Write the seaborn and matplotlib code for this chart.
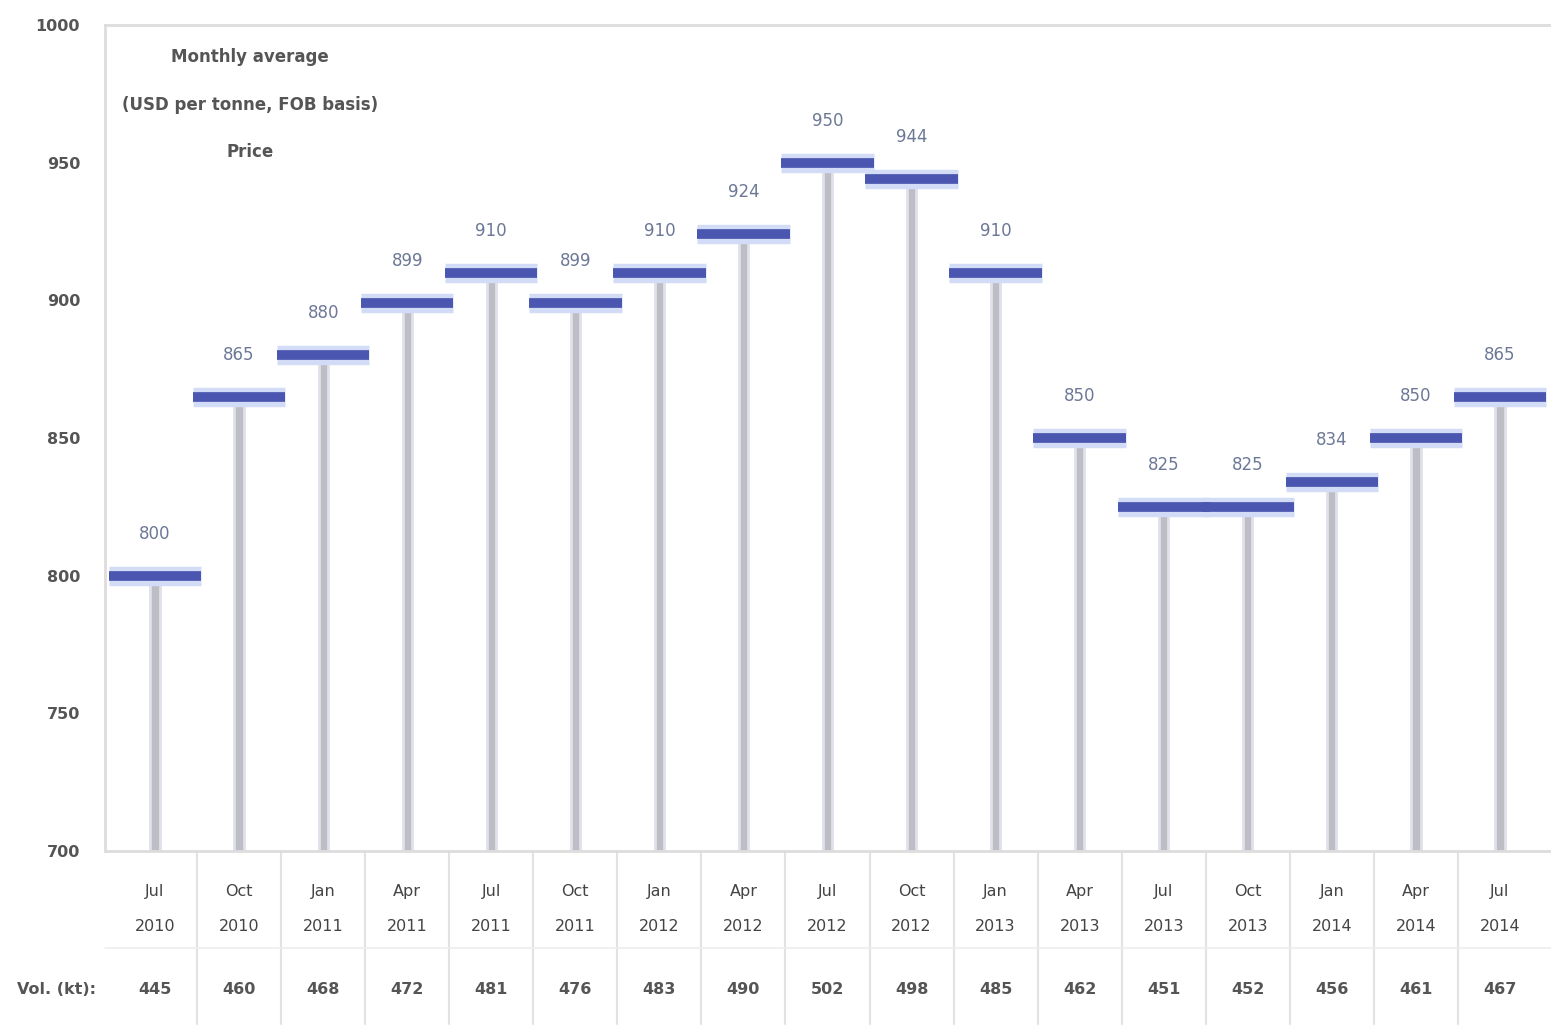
import matplotlib
matplotlib.use("Agg")
import matplotlib.pyplot as plt
import seaborn as sns
import pandas as pd
import numpy as np

# Monthly price series
periods = ["Jul\n2010", "Oct\n2010", "Jan\n2011", "Apr\n2011", "Jul\n2011", "Oct\n2011",
           "Jan\n2012", "Apr\n2012", "Jul\n2012", "Oct\n2012", "Jan\n2013", "Apr\n2013",
           "Jul\n2013", "Oct\n2013", "Jan\n2014", "Apr\n2014", "Jul\n2014"]
prices = [800, 865, 880, 899, 910, 899, 910, 924, 950, 944, 910, 850, 825, 825, 834, 850, 865]
volumes = [445, 460, 468, 472, 481, 476, 483, 490, 502, 498, 485, 462, 451, 452, 456, 461, 467]
y_ticks = [700, 750, 800, 850, 900, 950, 1000]
note_lines = ["Monthly average", "(USD per tonne, FOB basis)", "Price"]
row_label = "Vol. (kt):"

sns.set_theme(style="white")
plt.rcParams["font.family"] = ["DejaVu Sans"]

W, H = 1551, 1025
fig = plt.figure(figsize=(W / 100, H / 100), dpi=100)
ax = fig.add_axes([105 / W, 1 - 851 / H, 1 - 105 / W, (851 - 25) / H])

df = pd.DataFrame({"period": periods, "price": prices})
idx = np.arange(len(periods))

# vertical stems
sns.barplot(data=df, x="period", y="price", order=periods, width=0.11,
            color="#bcbcc6", edgecolor="#e0e0ea", linewidth=2, ax=ax, zorder=2)

# horizontal level markers with soft halo
ax.hlines(prices, idx - 0.55, idx + 0.55, colors="#d3dcf6", linewidth=14, zorder=3)
ax.hlines(prices, idx - 0.55, idx + 0.55, colors="#4a56b0", linewidth=7, zorder=4)

for i, v in enumerate(prices):
    ax.text(i, v + 12, f"{v}", ha="center", va="bottom", fontsize=12,
            color="#6c7896", zorder=5)

ax.set_xlim(-0.595, len(periods) - 1 + 0.607)
ax.set_ylim(700, 1000)
ax.set_yticks(y_ticks)
ax.set_yticklabels([str(t) for t in y_ticks], fontsize=11.5, fontweight="bold",
                   color="#555555")
ax.tick_params(axis="y", length=0, pad=18)
ax.set_xticks(idx)
ax.set_xticklabels(periods, fontsize=11.5, color="#444444", linespacing=2.6)
ax.tick_params(axis="x", length=0, pad=24)
ax.set_xlabel("")
ax.set_ylabel("")

ax.spines["right"].set_visible(False)
for side in ["left", "top", "bottom"]:
    ax.spines[side].set_color("#dddddd")
    ax.spines[side].set_linewidth(2)

# table cell separators below the axis
xtr = ax.get_xaxis_transform()
for b in np.arange(len(periods) - 1) + 0.5:
    ax.plot([b, b], [0.0, -0.21], transform=xtr, color="#e2e2e2", lw=1.5, clip_on=False)
ax.plot([-0.595, len(periods)], [-0.118, -0.118], transform=xtr,
        color="#eeeeee", lw=1.2, clip_on=False)

# volume row
for i, vol in enumerate(volumes):
    ax.text(i, -0.168, str(vol), transform=xtr, ha="center", va="center",
            fontsize=11.5, fontweight="bold", color="#555555")
fig.text(96 / W, 1 - 990 / H, row_label, ha="right", va="center", fontsize=11.5,
         fontweight="bold", color="#555555")

# note in the upper-left corner
for line, yy in zip(note_lines, [57, 105, 152]):
    fig.text(250 / W, 1 - yy / H, line, ha="center", va="center", fontsize=12,
             fontweight="bold", color="#555555")

fig.savefig("out.png", dpi=100)
